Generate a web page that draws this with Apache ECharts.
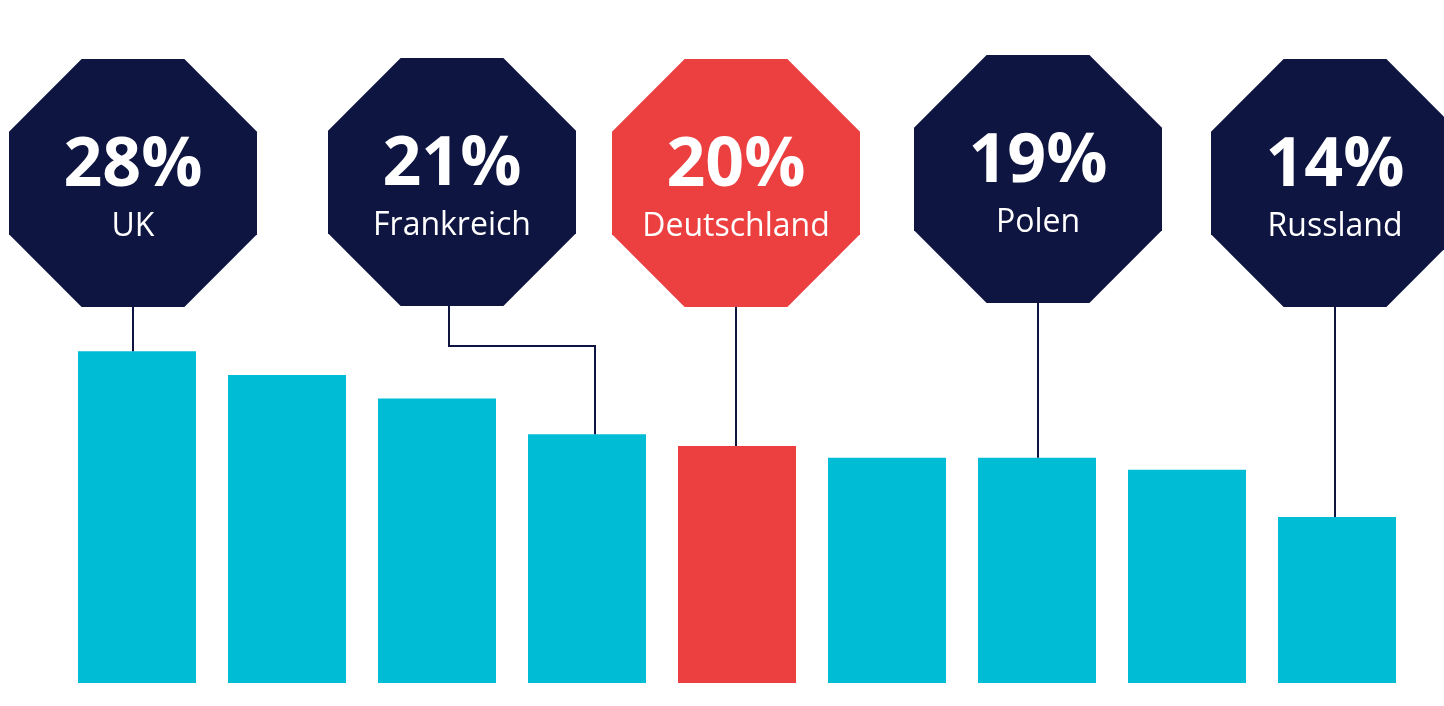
<!DOCTYPE html>
<html>
<head>
<meta charset="utf-8">
<script src="https://cdn.jsdelivr.net/npm/echarts@6/dist/echarts.min.js"></script>
<style>
  html, body { margin: 0; padding: 0; background: #fff; }
  #chart { width: 1444px; height: 706px; }
</style>
</head>
<body>
<div id="chart"></div>
<script>
// bar data (share in %), only five bars carry a country label in the source
var countries = ['UK', 'Land 2', 'Land 3', 'Frankreich', 'Deutschland', 'Land 6', 'Polen', 'Land 8', 'Russland'];
var shares = [28, 26, 24, 21, 20, 19, 19, 18, 14];
var labelled = ['UK', 'Frankreich', 'Deutschland', 'Polen', 'Russland'];
var highlight = 'Deutschland';

var NAVY = '#0e1540', CYAN = '#00bcd4', RED = '#ec4040';
var FONT = '"Open Sans", "Noto Sans", sans-serif';

// callout layout: horizontal shift of the box vs. its bar, and box top (px)
var boxShift = [-4, -135, -1, 1, -2];
var boxTop = [59, 58, 59, 55, 59];
var BOX = 248;

function octagon(cx, cy, w) {
  var h = w / 2, c = w / (2 + Math.SQRT2);
  return [
    [cx - h + c, cy - h], [cx + h - c, cy - h], [cx + h, cy - h + c], [cx + h, cy + h - c],
    [cx + h - c, cy + h], [cx - h + c, cy + h], [cx - h, cy + h - c], [cx - h, cy - h + c]
  ];
}

var calloutData = labelled.map(function (name) {
  var idx = countries.indexOf(name);
  return { name: name, value: [idx, shares[idx]] };
});

var chart = echarts.init(document.getElementById('chart'));

chart.setOption({
  animation: false,
  backgroundColor: '#fff',
  grid: { left: 62, right: 32, top: 209, bottom: 23 },
  xAxis: { type: 'category', data: countries, show: false },
  yAxis: { type: 'value', min: 0, max: 40, show: false },
  series: [
    {
      type: 'bar',
      data: shares,
      barWidth: 118,
      itemStyle: {
        color: function (p) { return p.name === highlight ? RED : CYAN; }
      }
    },
    {
      type: 'custom',
      clip: false,
      z: 5,
      data: calloutData,
      renderItem: function (params, api) {
        var i = params.dataIndex;
        var name = labelled[i];
        var bar = api.coord([api.value(0), api.value(1)]);
        var cx = bar[0] + boxShift[i];
        var top = boxTop[i];
        var cy = top + BOX / 2;
        var bottom = top + BOX;
        var pts;
        if (Math.abs(cx - bar[0]) > 20) {
          var elbow = bottom + 40;
          pts = [[cx - 3, bottom], [cx - 3, elbow], [bar[0] + 8, elbow], [bar[0] + 8, bar[1]]];
        } else {
          pts = [[cx, bottom], [cx, bar[1]]];
        }
        return {
          type: 'group',
          children: [
            {
              type: 'polyline',
              shape: { points: pts },
              style: { stroke: NAVY, lineWidth: 2, fill: null }
            },
            {
              type: 'polygon',
              shape: { points: octagon(cx, cy, BOX) },
              style: { fill: name === highlight ? RED : NAVY }
            },
            {
              type: 'text',
              style: {
                text: api.value(1) + '%',
                x: cx, y: cy - 16,
                fill: '#fff',
                font: 'bold 68px ' + FONT,
                align: 'center', verticalAlign: 'middle'
              }
            },
            {
              type: 'text',
              style: {
                text: name,
                x: cx, y: cy + 44,
                fill: '#fff',
                font: '32px ' + FONT,
                align: 'center', verticalAlign: 'middle'
              }
            }
          ]
        };
      }
    }
  ]
});
</script>
</body>
</html>
